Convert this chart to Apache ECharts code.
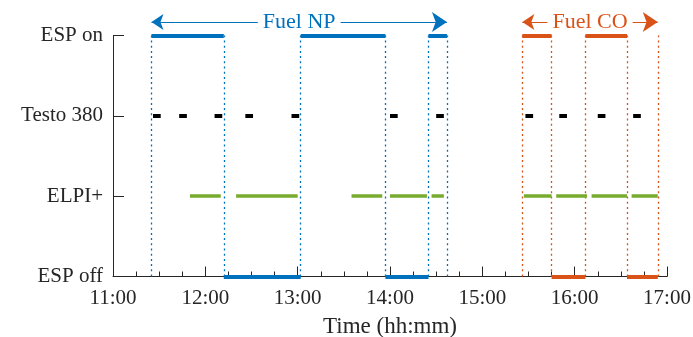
<!DOCTYPE html>
<html>
<head>
<meta charset="utf-8">
<script src="https://cdn.jsdelivr.net/npm/echarts@6/dist/echarts.min.js"></script>
<style>html,body{margin:0;padding:0;background:#fff}#c{width:693px;height:337px}</style>
</head>
<body>
<div id="c"></div>
<script>
// ---- data ----
const yLabels = ['ESP off', 'ELPI+', 'Testo 380', 'ESP on'];
const xTickLabels = ['11:00','12:00','13:00','14:00','15:00','16:00','17:00'];
const espOnNP  = [['11:25','12:12'],['13:02','13:57'],['14:25','14:37']];
const espOffNP = [['12:12','13:02'],['13:57','14:25']];
const espOnCO  = [['15:26','15:45'],['16:07','16:34']];
const espOffCO = [['15:45','16:07'],['16:34','16:54']];
const npBoundaries = ['11:25','12:12','13:02','13:57','14:25','14:37'];
const coBoundaries = ['15:26','15:45','16:07','16:34','16:54'];
const testo = [['11:26','11:31'],['11:43','11:48'],['12:06','12:11'],['12:26','12:31'],['12:56','13:01'],
               ['14:00','14:05'],['14:30','14:35'],['15:28','15:33'],['15:50','15:55'],['16:15','16:20'],['16:38','16:43']];
const elpi = [['11:50','12:10'],['12:20','13:00'],['13:35','13:55'],['14:00','14:24'],['14:27','14:35'],
              ['15:27','15:45'],['15:48','16:08'],['16:11','16:34'],['16:37','16:54']];
const fuelNP = ['11:25','14:37'];
const fuelCO = ['15:26','16:54'];
const annotLevel = 3.168;

// ---- helpers ----
const BLUE = '#0072BD', ORANGE = '#D95319', GREEN = '#77AC30', AX = '#262626';
const FONT = '"Liberation Serif", "Times New Roman", serif';
function m(s){ const p = s.split(':'); return (+p[0])*60 + (+p[1]); }
function fmt(v){ const h = Math.floor(v/60), mm = v%60; return h + ':' + (mm<10?'0':'') + mm; }
function segs(list, level){ return list.map(p => ({coords: [[m(p[0]), level], [m(p[1]), level]]})); }
function verts(list){ return list.map(t => ({coords: [[m(t), 0], [m(t), 3]]})); }
function segSeries(list, level, color, width){
  return {type:'lines', coordinateSystem:'cartesian2d', polyline:false, silent:true, clip:false,
    lineStyle:{color:color, width:width, opacity:1, cap:'butt'}, data: segs(list, level), z: 5};
}
function vertSeries(list, color){
  return {type:'lines', coordinateSystem:'cartesian2d', polyline:false, silent:true, clip:false,
    lineStyle:{color:color, width:1.3, opacity:1, type:[2,3.2]}, data: verts(list), z: 3};
}
function arrowSeries(span, text, color){
  return {type:'lines', coordinateSystem:'cartesian2d', polyline:false, silent:true, clip:false,
    symbol:['arrow','arrow'], symbolSize:[12,15],
    lineStyle:{color:color, width:1.2, opacity:1},
    label:{show:true, position:'middle', distance:0, verticalAlign:'middle', align:'center',
           formatter:text, color:color, fontFamily:FONT, fontSize:22,
           backgroundColor:'#fff', padding:[0,5]},
    data:[{coords:[[m(span[0]), annotLevel],[m(span[1]), annotLevel]]}], z: 6};
}

const chart = echarts.init(document.getElementById('c'), null, {renderer:'canvas'});
chart.setOption({
  animation:false,
  backgroundColor:'#fff',
  grid:{left:113, right:26, top:35.5, bottom:60.5, containLabel:false, outerBoundsMode:'none'},
  xAxis:{
    type:'value', min:m(xTickLabels[0]), max:m(xTickLabels[xTickLabels.length-1]), interval:60,
    axisLine:{show:true, onZero:false, lineStyle:{color:AX, width:1}},
    axisTick:{show:true, inside:true, length:10, lineStyle:{color:AX}},
    minorTick:{show:true, splitNumber:4, length:5, lineStyle:{color:AX}},
    splitLine:{show:false},
    axisLabel:{formatter:fmt, color:AX, fontFamily:FONT, fontSize:21, margin:11},
    name:'Time (hh:mm)', nameLocation:'middle', nameGap:39,
    nameTextStyle:{color:AX, fontFamily:FONT, fontSize:23}
  },
  yAxis:{
    type:'value', min:0, max:3, interval:1,
    axisLine:{show:true, onZero:false, lineStyle:{color:AX, width:1}},
    axisTick:{show:true, inside:true, length:11, lineStyle:{color:AX}},
    splitLine:{show:false},
    axisLabel:{formatter:v => yLabels[v], color:AX, fontFamily:FONT, fontSize:21, margin:10}
  },
  series:[
    vertSeries(npBoundaries, BLUE),
    vertSeries(coBoundaries, ORANGE),
    segSeries(espOnNP, 3, BLUE, 4),
    segSeries(espOffNP, 0, BLUE, 4),
    segSeries(espOnCO, 3, ORANGE, 4),
    segSeries(espOffCO, 0, ORANGE, 4),
    segSeries(testo, 2, '#000', 4),
    segSeries(elpi, 1, GREEN, 3.5),
    arrowSeries(fuelNP, 'Fuel NP', BLUE),
    arrowSeries(fuelCO, 'Fuel CO', ORANGE)
  ]
});
</script>
</body>
</html>
